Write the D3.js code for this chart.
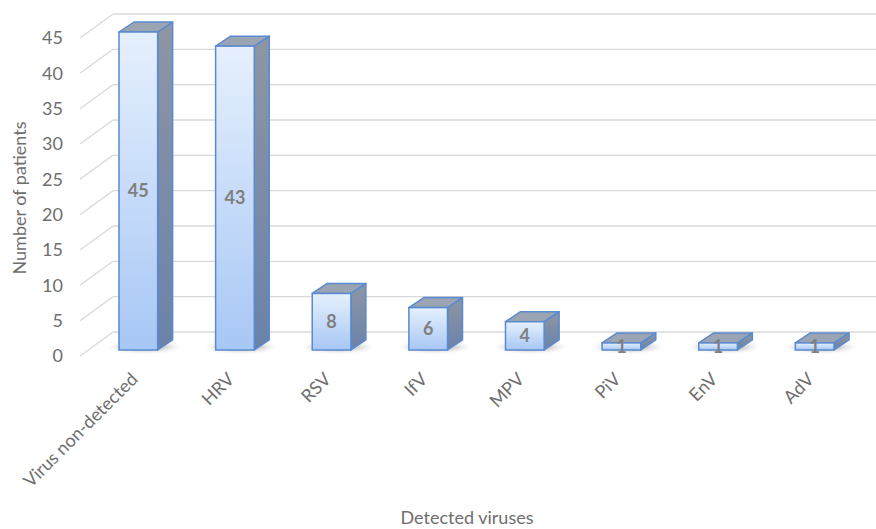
<!DOCTYPE html>
<html>
<head>
<meta charset="utf-8">
<script src="https://cdn.jsdelivr.net/npm/d3@7"></script>
<style>
  html, body { margin: 0; padding: 0; background: #ffffff; }
  svg { display: block; }
  text { font-family: Lato, "Open Sans", sans-serif; }
</style>
</head>
<body>
<svg id="chart" width="876" height="529"></svg>
<script>
const categories = ["Virus non-detected", "HRV", "RSV", "IfV", "MPV", "PiV", "EnV", "AdV"];
const patients = [45, 43, 8, 6, 4, 1, 1, 1];
const yTicks = [0, 5, 10, 15, 20, 25, 30, 35, 40, 45];
const xTitle = "Detected viruses";
const yTitle = "Number of patients";

const svg = d3.select("#chart");
const defs = svg.append("defs");

// 3D depth of the plot box and of each column
const wallDx = 33, wallDy = -24;   // back wall offset from front edge
const barDx = 15, barDy = -10;     // column depth

const x = d3.scaleBand().domain(categories).range([90, 863]).paddingInner(0.6).paddingOuter(0.3);
const y = d3.scaleLinear().domain([0, 45]).range([350, 32]);

// gradients
const front = defs.append("linearGradient").attr("id", "gFront").attr("x1", 0).attr("y1", 0).attr("x2", 0).attr("y2", 1);
front.append("stop").attr("offset", "0%").attr("stop-color", "#e6f0fd");
front.append("stop").attr("offset", "100%").attr("stop-color", "#a7c7f5");
const side = defs.append("linearGradient").attr("id", "gSide").attr("x1", 0).attr("y1", 0).attr("x2", 0).attr("y2", 1);
side.append("stop").attr("offset", "0%").attr("stop-color", "#8d96a4");
side.append("stop").attr("offset", "100%").attr("stop-color", "#6a82aa");
const shadow = defs.append("radialGradient").attr("id", "gShadow");
shadow.append("stop").attr("offset", "0%").attr("stop-color", "#555").attr("stop-opacity", 0.75);
shadow.append("stop").attr("offset", "60%").attr("stop-color", "#888").attr("stop-opacity", 0.35);
shadow.append("stop").attr("offset", "100%").attr("stop-color", "#bbb").attr("stop-opacity", 0);
defs.append("filter").attr("id", "blur").append("feGaussianBlur").attr("stdDeviation", 1.5);

const backY = v => y(v) - 18;
const frontX = 80;
const backX = frontX + wallDx;
const textGray = "#6e6e6e";

// gridlines: back wall + left wall diagonals
const grid = svg.append("g").attr("stroke", "#d9d9d9").attr("stroke-width", 1.3).attr("fill", "none");
grid.selectAll("line.back").data(yTicks).join("line")
  .attr("x1", backX).attr("x2", 876)
  .attr("y1", d => backY(d)).attr("y2", d => backY(d));
grid.selectAll("line.side").data(yTicks).join("line")
  .attr("x1", frontX).attr("y1", d => backY(d) - wallDy)
  .attr("x2", backX).attr("y2", d => backY(d));

// y tick labels
svg.append("g").selectAll("text").data(yTicks).join("text")
  .attr("x", 63).attr("y", d => backY(d) - wallDy)
  .attr("dy", "0.35em").attr("text-anchor", "end")
  .attr("font-size", 18).attr("fill", textGray)
  .text(d => d);

// floor shadows
svg.append("g").attr("filter", "url(#blur)").selectAll("ellipse").data(patients).join("ellipse")
  .attr("cx", (d, i) => x(categories[i]) + x.bandwidth() / 2 + 6)
  .attr("cy", y(0) - 3)
  .attr("rx", x.bandwidth() * 0.95)
  .attr("ry", 6)
  .attr("fill", "url(#gShadow)");

// columns
const bars = svg.append("g").selectAll("g").data(patients).join("g");
const stroke = "#5a8ad0";
bars.append("path") // side face
  .attr("d", (d, i) => {
    const x1 = x(categories[i]) + x.bandwidth();
    return `M${x1},${y(d)}L${x1 + barDx},${y(d) + barDy}L${x1 + barDx},${y(0) + barDy}L${x1},${y(0)}Z`;
  })
  .attr("fill", "url(#gSide)").attr("stroke", stroke).attr("stroke-width", 1.5).attr("stroke-linejoin", "round");
bars.append("path") // top face
  .attr("d", (d, i) => {
    const x0 = x(categories[i]), x1 = x0 + x.bandwidth();
    return `M${x0},${y(d)}L${x0 + barDx},${y(d) + barDy}L${x1 + barDx},${y(d) + barDy}L${x1},${y(d)}Z`;
  })
  .attr("fill", "#9ba4b2").attr("stroke", stroke).attr("stroke-width", 1.5).attr("stroke-linejoin", "round");
bars.append("rect") // front face
  .attr("x", (d, i) => x(categories[i]))
  .attr("y", d => y(d))
  .attr("width", x.bandwidth())
  .attr("height", d => y(0) - y(d))
  .attr("fill", "url(#gFront)").attr("stroke", stroke).attr("stroke-width", 1.5);

// value labels
bars.append("text")
  .attr("x", (d, i) => x(categories[i]) + x.bandwidth() / 2)
  .attr("y", d => (y(d) + y(0)) / 2)
  .attr("dy", "0.35em").attr("text-anchor", "middle")
  .attr("font-size", 18).attr("font-weight", "bold").attr("fill", "#7f7f7f")
  .text(d => d);

// category labels
svg.append("g").selectAll("text").data(categories).join("text")
  .attr("transform", d => `translate(${x(d) + x.bandwidth() / 2 - 4},376) rotate(-45)`)
  .attr("text-anchor", "end").attr("dy", "0.35em")
  .attr("font-size", 18).attr("fill", textGray)
  .text(d => d);

// axis titles
svg.append("text").attr("x", 467).attr("y", 524).attr("text-anchor", "middle")
  .attr("font-size", 18).attr("fill", textGray).text(xTitle);
svg.append("text").attr("transform", "translate(20,198) rotate(-90)").attr("text-anchor", "middle")
  .attr("dy", "0.35em").attr("font-size", 18).attr("fill", textGray).text(yTitle);
</script>
</body>
</html>
